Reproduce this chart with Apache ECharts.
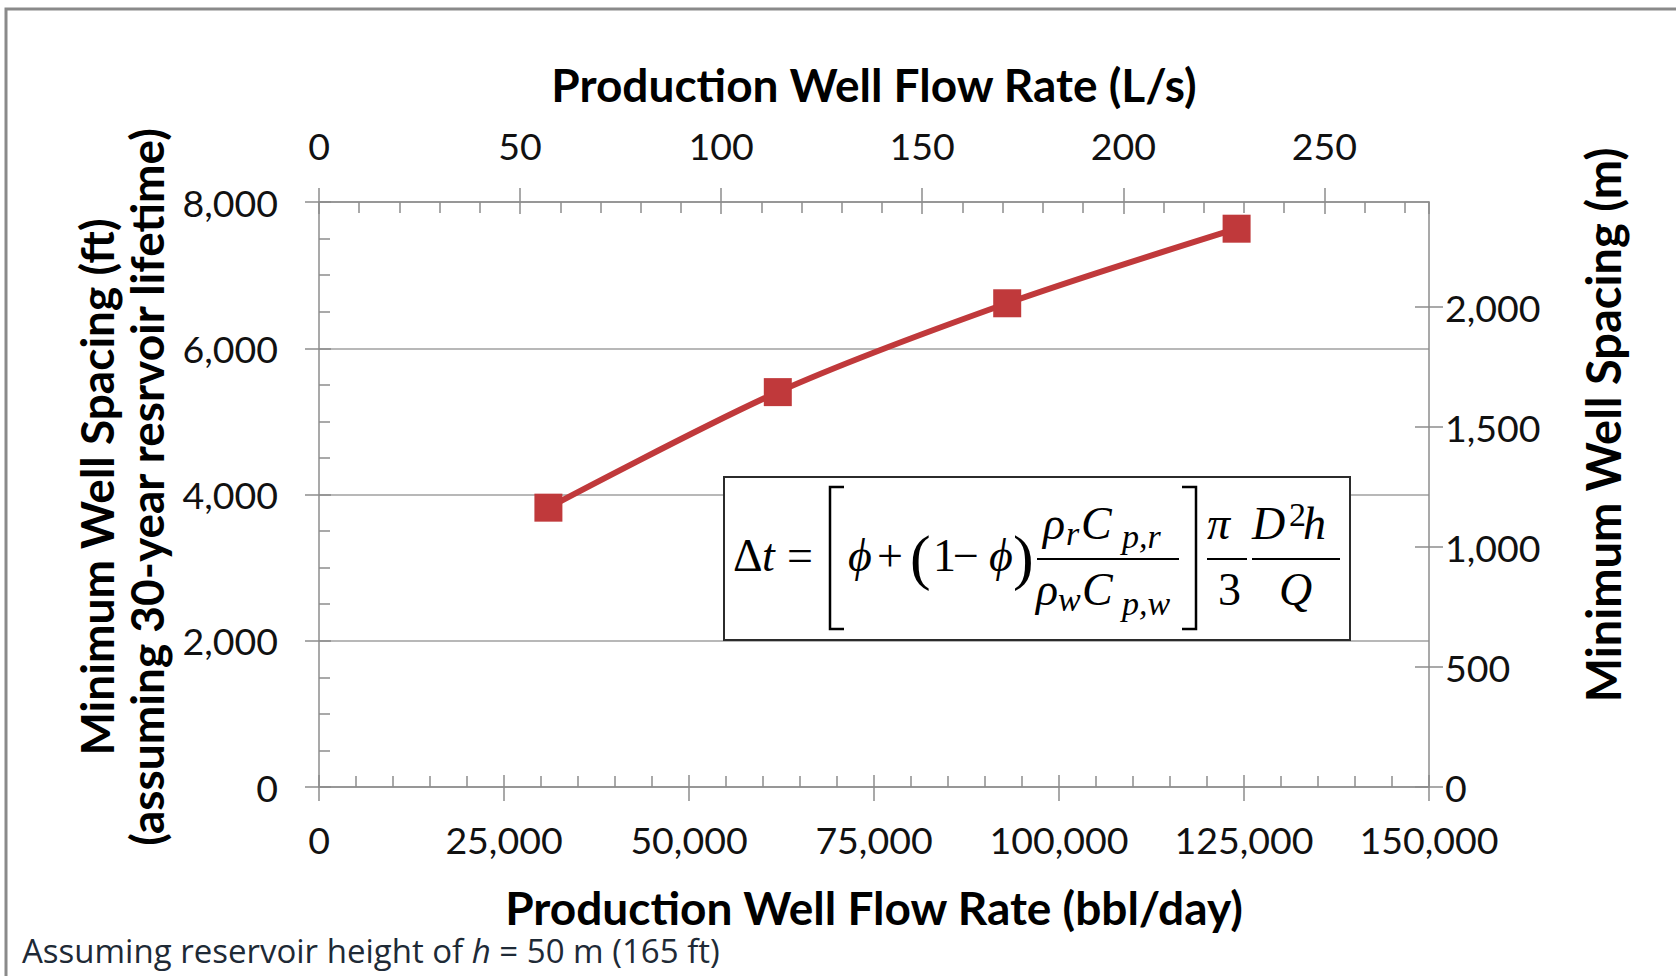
<!DOCTYPE html>
<html>
<head>
<meta charset="utf-8">
<script src="https://cdn.jsdelivr.net/npm/echarts@6/dist/echarts.min.js"></script>
<style>
  html, body { margin: 0; padding: 0; background: #ffffff; }
  #chart { width: 1676px; height: 976px; }
</style>
</head>
<body>
<div id="chart"></div>
<script>
// Production flow rate (bbl/day) and the resulting minimum well spacing (ft)
const flowBblPerDay = [31000, 62000, 93000, 124000];
const spacingFt = [3820, 5400, 6615, 7635];

// Tick values of the four axes
const bottomTicks = [0, 25000, 50000, 75000, 100000, 125000, 150000];
const topTicks = [0, 50, 100, 150, 200, 250];
const leftTicks = [0, 2000, 4000, 6000, 8000];
const rightTicks = [0, 500, 1000, 1500, 2000];

// Unit conversions for the secondary axes
const LPS_PER_BBL_DAY = 158.987294928 / 86400;   // litres per barrel / seconds per day
const M_PER_FT = 0.3048;
const X_MAX = bottomTicks[bottomTicks.length - 1];
const Y_MAX = leftTicks[leftTicks.length - 1];

const AXIS_GRAY = '#8c8c8c';
const GRID_GRAY = '#a0a0a0';
const RED = '#c0393b';
const LABEL_FONT = 'Lato';
const fmt = v => Math.round(v).toLocaleString('en-US');

const tickLabel = { fontFamily: LABEL_FONT, fontSize: 37.5, color: '#111' };
const titleStyle = { fontFamily: LABEL_FONT, fontWeight: 'bold', fontSize: 46, color: '#000' };
const lineGray = { color: AXIS_GRAY, width: 1.5 };

// Two axes share each side: one draws outward ticks and labels,
// the other inward major + minor ticks, giving crossing major ticks.
function outerAxis(extra) {
  return Object.assign({
    type: 'value',
    axisLine: { show: true, onZero: false, lineStyle: lineGray },
    axisTick: { show: true, inside: false, length: 14, lineStyle: lineGray },
    axisLabel: Object.assign({ formatter: fmt }, tickLabel),
    splitLine: { show: false }
  }, extra);
}
function innerAxis(extra, minorSplit) {
  return Object.assign({
    type: 'value',
    axisLine: { show: false, onZero: false },
    axisTick: { show: true, inside: true, length: 12, lineStyle: lineGray },
    minorTick: { show: minorSplit > 0, splitNumber: minorSplit || 5, length: 11, lineStyle: lineGray },
    axisLabel: { show: false },
    splitLine: { show: false }
  }, extra);
}

const topMax = X_MAX * LPS_PER_BBL_DAY;
const rightMax = Y_MAX * M_PER_FT;

const chart = echarts.init(document.getElementById('chart'), null, { renderer: 'svg' });

// Heat-breakthrough relation shown in the framed box
const F = 'Liberation Serif';
function ft(text, x, baseline, size, italic) {
  return {
    type: 'text', x: x, y: baseline - 0.34 * size, z: 12,
    style: { text: text, fontFamily: F, fontSize: size, fontStyle: italic ? 'italic' : 'normal',
             fill: '#000', align: 'left', verticalAlign: 'middle' }
  };
}
function bar(x1, x2, y) {
  return { type: 'line', z: 12, shape: { x1: x1, y1: y, x2: x2, y2: y }, style: { stroke: '#000', lineWidth: 2 } };
}
function bracket(pts) {
  return { type: 'polyline', z: 12, shape: { points: pts }, style: { stroke: '#000', lineWidth: 2.5, fill: null } };
}
const S = 46, SS = 34, B1 = 571, BN = 539, BD = 605;
const formula = [
  { type: 'rect', z: 11, shape: { x: 724, y: 477, width: 626, height: 163 },
    style: { fill: '#fff', stroke: '#2b2b2b', lineWidth: 2 } },
  ft('\u0394', 733, B1, S, false),
  ft('t', 762, B1, S, true),
  ft('=', 787, B1, S, false),
  bracket([[844, 487], [830, 487], [830, 629], [844, 629]]),
  ft('\u03d5', 848, B1, S, true),
  ft('+', 877, B1, S, false),
  ft('(', 910, B1 + 7, 62, false),
  ft('1', 933, B1, S, false),
  ft('\u2212', 953, B1, S, false),
  ft('\u03d5', 989, B1, S, true),
  ft(')', 1013, B1 + 7, 62, false),
  // rock / water heat capacity ratio
  ft('\u03c1', 1043, BN, S, true),
  ft('r', 1066, BN + 6, SS, true),
  ft('C', 1081, BN, S, true),
  ft('p,r', 1122, BN + 9, SS, true),
  bar(1037, 1179, 559),
  ft('\u03c1', 1036, BD, S, true),
  ft('w', 1058, BD + 6, SS, true),
  ft('C', 1082, BD, S, true),
  ft('p,w', 1122, BD + 10, SS, true),
  bracket([[1182, 487], [1196, 487], [1196, 629], [1182, 629]]),
  ft('\u03c0', 1207, BN, S, true),
  bar(1207, 1247, 559),
  ft('3', 1218, BD, S, false),
  ft('D', 1252, BN, S, true),
  ft('2', 1289, BN - 13, SS, false),
  ft('h', 1303, BN, S, true),
  bar(1252, 1340, 559),
  ft('Q', 1279, BD, S, true)
];

chart.setOption({
  animation: false,
  backgroundColor: '#ffffff',
  grid: { left: 319, top: 202, width: 1110, height: 585, containLabel: false, outerBoundsMode: 'none' },
  xAxis: [
    outerAxis({
      position: 'bottom', min: 0, max: X_MAX, interval: 25000,
      axisLabel: Object.assign({ formatter: fmt, margin: 33 }, tickLabel),
      name: 'Production Well Flow Rate (bbl/day)', nameLocation: 'middle', nameGap: 98,
      nameTextStyle: Object.assign({ lineHeight: 44 }, titleStyle)
    }),
    innerAxis({ position: 'bottom', min: 0, max: X_MAX, interval: 25000 }, 5),
    outerAxis({
      position: 'top', min: 0, max: topMax, interval: 50,
      axisTick: { show: true, inside: false, length: 14, lineStyle: lineGray, customValues: topTicks },
      axisLabel: Object.assign({ formatter: fmt, margin: 38, customValues: topTicks }, tickLabel),
      name: 'Production Well Flow Rate (L/s)', nameLocation: 'middle', nameGap: 95,
      nameTextStyle: titleStyle
    }),
    innerAxis({ position: 'top', min: 0, max: topMax, interval: 50 }, 5)
  ],
  yAxis: [
    outerAxis({
      position: 'left', min: 0, max: Y_MAX, interval: 2000,
      axisLabel: Object.assign({ formatter: fmt, margin: 41 }, tickLabel),
      splitLine: { show: true, lineStyle: { color: GRID_GRAY, width: 1.5 } },
      name: 'Minimum Well Spacing (ft)\n(assuming 30-year resrvoir lifetime)',
      nameLocation: 'middle', nameRotate: 90, nameGap: 128,
      nameTextStyle: Object.assign({ lineHeight: 50, padding: [0, 0, 0, 15] }, titleStyle)
    }),
    innerAxis({ position: 'left', min: 0, max: Y_MAX, interval: 2000 }, 4),
    outerAxis({
      position: 'right', min: 0, max: rightMax, interval: 500,
      axisTick: { show: true, inside: false, length: 14, lineStyle: lineGray, customValues: rightTicks },
      axisLabel: Object.assign({ formatter: fmt, margin: 16, customValues: rightTicks }, tickLabel),
      name: 'Minimum Well Spacing (m)', nameLocation: 'middle', nameRotate: 90, nameGap: 150,
      nameTextStyle: Object.assign({}, titleStyle, { fontSize: 47, padding: [0, 0, 0, 139] })
    }),
    innerAxis({
      position: 'right', min: 0, max: rightMax, interval: 500,
      axisTick: { show: true, inside: true, length: 14, lineStyle: lineGray, customValues: rightTicks }
    }, 0)
  ],
  series: [{
    type: 'line',
    xAxisIndex: 0, yAxisIndex: 0,
    data: flowBblPerDay.map((x, i) => [x, spacingFt[i]]),
    smooth: 0.3,
    symbol: 'rect', symbolSize: 28,
    itemStyle: { color: RED },
    lineStyle: { color: RED, width: 6 },
    z: 5
  }],
  graphic: formula.concat([
    { type: 'rect', z: 1, silent: true, shape: { x: 6, y: 9, width: 1720, height: 1020 },
      style: { fill: null, stroke: '#8a8a8a', lineWidth: 3 } },
    { type: 'text', x: 22, y: 950, z: 10,
      style: {
        text: '{n|Assuming reservoir height of }{i|h}{n| = 50 m (165 ft)}',
        verticalAlign: 'middle', align: 'left',
        rich: {
          n: { fontFamily: 'Open Sans', fontSize: 33, lineHeight: 34, fill: '#1e2a36' },
          i: { fontFamily: 'Open Sans', fontSize: 33, lineHeight: 34, fontStyle: 'italic', fill: '#1e2a36' }
        }
      } }
  ])
});
</script>
</body>
</html>
